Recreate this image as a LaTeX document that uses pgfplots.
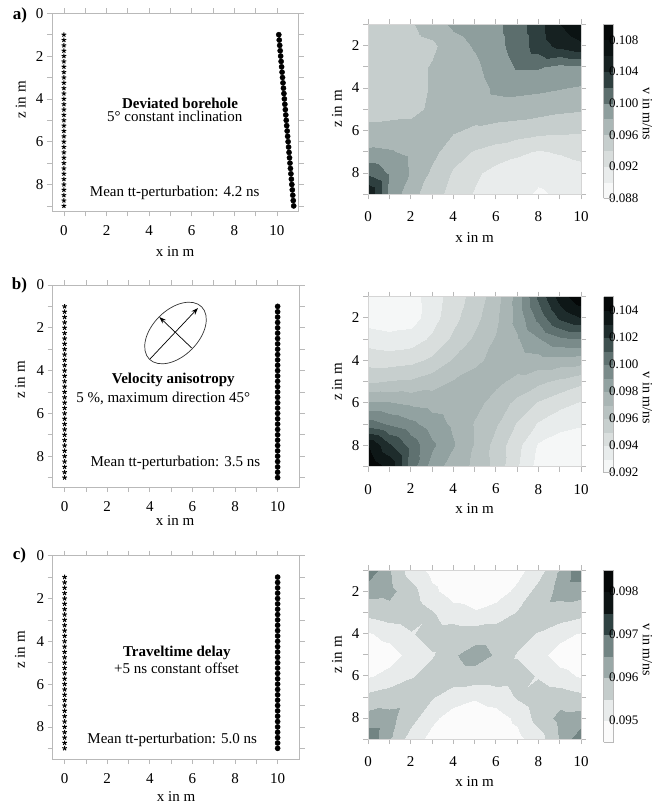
\documentclass[border=0pt]{standalone}
\usepackage{fontspec}
\setmainfont{Liberation Serif}
\usepackage{pgfplots}
\usepackage{pgfplotstable}
\pgfplotsset{compat=1.18}
\usetikzlibrary{arrows.meta}

\definecolor{axgray}{RGB}{185,185,185}

\pgfplotstableread[row sep=\\]{
x z v\\
0 1 0.0950\\ 1 1 0.0950\\ 2 1 0.0958\\ 3 1 0.0970\\ 4 1 0.0984\\ 5 1 0.0990\\ 6 1 0.0996\\ 7 1 0.1010\\ 8 1 0.1032\\ 9 1 0.1060\\ 10 1 0.1076\\
0 2 0.0946\\ 1 2 0.0946\\ 2 2 0.0952\\ 3 2 0.0956\\ 4 2 0.0972\\ 5 2 0.0982\\ 6 2 0.0994\\ 7 2 0.1008\\ 8 2 0.1030\\ 9 2 0.1046\\ 10 2 0.1056\\
0 3 0.0946\\ 1 3 0.0946\\ 2 3 0.0952\\ 3 3 0.0962\\ 4 3 0.0968\\ 5 3 0.0976\\ 6 3 0.0990\\ 7 3 0.1002\\ 8 3 0.1002\\ 9 3 0.0994\\ 10 3 0.0996\\
0 4 0.0946\\ 1 4 0.0946\\ 2 4 0.0952\\ 3 4 0.0962\\ 4 4 0.0966\\ 5 4 0.0972\\ 6 4 0.0984\\ 7 4 0.0986\\ 8 4 0.0984\\ 9 4 0.0981\\ 10 4 0.0978\\
0 5 0.0952\\ 1 5 0.0952\\ 2 5 0.0954\\ 3 5 0.0964\\ 4 5 0.0968\\ 5 5 0.0970\\ 6 5 0.0972\\ 7 5 0.0970\\ 8 5 0.0968\\ 9 5 0.0964\\ 10 5 0.0962\\
0 6 0.0966\\ 1 6 0.0968\\ 2 6 0.0968\\ 3 6 0.0966\\ 4 6 0.0962\\ 5 6 0.0956\\ 6 6 0.0952\\ 7 6 0.0950\\ 8 6 0.0946\\ 9 6 0.0944\\ 10 6 0.0942\\
0 7 0.0984\\ 1 7 0.0982\\ 2 7 0.0976\\ 3 7 0.0966\\ 4 7 0.0948\\ 5 7 0.0938\\ 6 7 0.0932\\ 7 7 0.0924\\ 8 7 0.0918\\ 9 7 0.0922\\ 10 7 0.0928\\
0 8 0.1016\\ 1 8 0.0998\\ 2 8 0.0978\\ 3 8 0.0956\\ 4 8 0.0938\\ 5 8 0.0924\\ 6 8 0.0912\\ 7 8 0.0908\\ 8 8 0.0904\\ 9 8 0.0906\\ 10 8 0.0910\\
0 9 0.1060\\ 1 9 0.0996\\ 2 9 0.0966\\ 3 9 0.0950\\ 4 9 0.0932\\ 5 9 0.0918\\ 6 9 0.0910\\ 7 9 0.0905\\ 8 9 0.0898\\ 9 9 0.0902\\ 10 9 0.0906\\
}\tabA

\pgfplotstableread[row sep=\\]{
x z v\\
0 1 0.0926\\ 1 1 0.0924\\ 2 1 0.0926\\ 3 1 0.0935\\ 4 1 0.0945\\ 5 1 0.0954\\ 6 1 0.0966\\ 7 1 0.0984\\ 8 1 0.1012\\ 9 1 0.1035\\ 10 1 0.1048\\
0 2 0.0925\\ 1 2 0.0923\\ 2 2 0.0925\\ 3 2 0.0936\\ 4 2 0.0947\\ 5 2 0.0957\\ 6 2 0.0968\\ 7 2 0.0983\\ 8 2 0.1003\\ 9 2 0.1022\\ 10 2 0.1030\\
0 3 0.0936\\ 1 3 0.0934\\ 2 3 0.0935\\ 3 3 0.0942\\ 4 3 0.0952\\ 5 3 0.0962\\ 6 3 0.0971\\ 7 3 0.0979\\ 8 3 0.0989\\ 9 3 0.0998\\ 10 3 0.1000\\
0 4 0.0946\\ 1 4 0.0945\\ 2 4 0.0947\\ 3 4 0.0952\\ 4 4 0.0961\\ 5 4 0.0968\\ 6 4 0.0973\\ 7 4 0.0975\\ 8 4 0.0976\\ 9 4 0.0976\\ 10 4 0.0975\\
0 5 0.0959\\ 1 5 0.0961\\ 2 5 0.0962\\ 3 5 0.0966\\ 4 5 0.0971\\ 5 5 0.0974\\ 6 5 0.0972\\ 7 5 0.0967\\ 8 5 0.0962\\ 9 5 0.0957\\ 10 5 0.0952\\
0 6 0.0982\\ 1 6 0.0981\\ 2 6 0.0978\\ 3 6 0.0976\\ 4 6 0.0975\\ 5 6 0.0973\\ 6 6 0.0966\\ 7 6 0.0957\\ 8 6 0.0949\\ 9 6 0.0943\\ 10 6 0.0939\\
0 7 0.1005\\ 1 7 0.0999\\ 2 7 0.0993\\ 3 7 0.0985\\ 4 7 0.0978\\ 5 7 0.0969\\ 6 7 0.0961\\ 7 7 0.0949\\ 8 7 0.0939\\ 9 7 0.0933\\ 10 7 0.0931\\
0 8 0.1040\\ 1 8 0.1022\\ 2 8 0.1006\\ 3 8 0.0992\\ 4 8 0.0981\\ 5 8 0.0969\\ 6 8 0.0956\\ 7 8 0.0943\\ 8 8 0.0929\\ 9 8 0.0925\\ 10 8 0.0925\\
0 9 0.1048\\ 1 9 0.1038\\ 2 9 0.1005\\ 3 9 0.0985\\ 4 9 0.0975\\ 5 9 0.0968\\ 6 9 0.0956\\ 7 9 0.0941\\ 8 9 0.0926\\ 9 9 0.0924\\ 10 9 0.0926\\
}\tabB

\pgfplotstableread[row sep=\\]{
x z v\\
0 1 0.0969\\ 1 1 0.09605\\ 2 1 0.09525\\ 3 1 0.09485\\ 4 1 0.0947\\ 5 1 0.09465\\ 6 1 0.0947\\ 7 1 0.09485\\ 8 1 0.09525\\ 9 1 0.09605\\ 10 1 0.0969\\
0 2 0.0962\\ 1 2 0.09615\\ 2 2 0.0957\\ 3 2 0.0951\\ 4 2 0.0948\\ 5 2 0.09475\\ 6 2 0.0948\\ 7 2 0.0951\\ 8 2 0.0957\\ 9 2 0.09615\\ 10 2 0.0962\\
0 3 0.09565\\ 1 3 0.0958\\ 2 3 0.09585\\ 3 3 0.09555\\ 4 3 0.0952\\ 5 3 0.09505\\ 6 3 0.0952\\ 7 3 0.09555\\ 8 3 0.09585\\ 9 3 0.0958\\ 10 3 0.09565\\
0 4 0.09495\\ 1 4 0.09515\\ 2 4 0.09545\\ 3 4 0.09575\\ 4 4 0.0958\\ 5 4 0.0958\\ 6 4 0.0958\\ 7 4 0.09575\\ 8 4 0.09545\\ 9 4 0.09515\\ 10 4 0.09495\\
0 5 0.0947\\ 1 5 0.0948\\ 2 5 0.09515\\ 3 5 0.09545\\ 4 5 0.09595\\ 5 5 0.0962\\ 6 5 0.09595\\ 7 5 0.09545\\ 8 5 0.09515\\ 9 5 0.0948\\ 10 5 0.0947\\
0 6 0.09495\\ 1 6 0.09515\\ 2 6 0.09545\\ 3 6 0.09575\\ 4 6 0.0958\\ 5 6 0.0958\\ 6 6 0.0958\\ 7 6 0.09575\\ 8 6 0.09545\\ 9 6 0.09515\\ 10 6 0.09495\\
0 7 0.09565\\ 1 7 0.0958\\ 2 7 0.09585\\ 3 7 0.09555\\ 4 7 0.0952\\ 5 7 0.09505\\ 6 7 0.0952\\ 7 7 0.09555\\ 8 7 0.09585\\ 9 7 0.0958\\ 10 7 0.09565\\
0 8 0.0962\\ 1 8 0.09615\\ 2 8 0.0957\\ 3 8 0.0951\\ 4 8 0.0948\\ 5 8 0.09475\\ 6 8 0.0948\\ 7 8 0.0951\\ 8 8 0.0957\\ 9 8 0.09615\\ 10 8 0.0962\\
0 9 0.0969\\ 1 9 0.09605\\ 2 9 0.09525\\ 3 9 0.09485\\ 4 9 0.0947\\ 5 9 0.09465\\ 6 9 0.0947\\ 7 9 0.09485\\ 8 9 0.09525\\ 9 9 0.09605\\ 10 9 0.0969\\
}\tabC

\pgfplotsset{
 base/.style={
   anchor=north west,
   font=\fontsize{15}{18}\selectfont,
   /pgf/number format/assume math mode=true,
   y dir=reverse,
   axis line style={axgray, line width=0.8pt},
   tick style={axgray, line width=0.8pt},
   tick align=outside,
   major tick length=5pt, minor tick length=5pt,
   x=21.3pt, y=21.4pt,
   clip=false,
 },
 leftpanel/.style={base, xmin=-0.56, xmax=11.03, ymin=0,
   xtick={0,2,...,10}, minor xtick={1,3,...,9},
   ytick={0,2,...,8}, minor ytick={1,3,...,9},
   xticklabel style={yshift=-6pt},
 },
 rightpanel/.style={base, xmin=0, xmax=10, ymin=1, ymax=9,
   xtick={0,2,...,10}, minor xtick={1,3,...,9},
   ytick={2,4,6,8}, minor ytick={1,3,...,9},
   xticklabel style={yshift=-9pt},
   axis line style={axgray!60, line width=0.5pt},
   axis on top, colormap access=piecewise constant, colorbar,
 },
 cbstyle/.style={
   at={(parent axis.north east)}, anchor=north west, xshift=14pt,
   width=10pt, scale only axis, height=#1,
   font=\fontsize{13}{16}\selectfont,
   /pgf/number format/assume math mode=true,
   major tick length=0pt,
   axis line style={axgray, line width=0.5pt},
   scaled y ticks=false,
   yticklabel style={xshift=-8pt, /pgf/number format/.cd, fixed, fixed zerofill, precision=3},
 },
 src/.style={only marks, mark=star, mark size=2.4pt, mark options={line width=1pt, black}},
 rec/.style={only marks, mark=*, mark size=2.6pt, mark options={black}},
}

\begin{document}
\begin{tikzpicture}[font=\fontsize{15}{18}\selectfont]
\useasboundingbox (0,0) rectangle (655pt,-811pt);

% ---------------- a) left
\begin{axis}[leftpanel, at={(52pt,-13.3pt)}, ymax=9.25]
\addplot[src] coordinates {(0,1) (0,1.25) (0,1.5) (0,1.75) (0,2) (0,2.25) (0,2.5) (0,2.75) (0,3) (0,3.25) (0,3.5) (0,3.75) (0,4) (0,4.25) (0,4.5) (0,4.75) (0,5) (0,5.25) (0,5.5) (0,5.75) (0,6) (0,6.25) (0,6.5) (0,6.75) (0,7) (0,7.25) (0,7.5) (0,7.75) (0,8) (0,8.25) (0,8.5) (0,8.75) (0,9)};
\addplot[rec] coordinates {(10.087,1) (10.109,1.25) (10.131,1.5) (10.153,1.75) (10.175,2) (10.197,2.25) (10.219,2.5) (10.241,2.75) (10.262,3) (10.284,3.25) (10.306,3.5) (10.328,3.75) (10.350,4) (10.372,4.25) (10.394,4.5) (10.416,4.75) (10.437,5) (10.459,5.25) (10.481,5.5) (10.503,5.75) (10.525,6) (10.547,6.25) (10.569,6.5) (10.591,6.75) (10.612,7) (10.634,7.25) (10.656,7.5) (10.678,7.75) (10.700,8) (10.722,8.25) (10.744,8.5) (10.766,8.75) (10.787,9)};
\node[font=\fontsize{15}{18}\selectfont\bfseries] at (axis cs:5.45,4.2) {Deviated borehole};
\node at (axis cs:5.2,4.83) {5° constant inclination};
\node at (axis cs:5.2,8.38) {Mean tt-perturbation: 4.2 ns};
\end{axis}

% ---------------- a) right
\begin{axis}[rightpanel, at={(368pt,-24.3pt)}, y=21.25pt,
  colormap={cmA}{rgb255=(247,248,248) rgb255=(233,236,236) rgb255=(216,221,220) rgb255=(198,206,205) rgb255=(171,183,182) rgb255=(142,158,157) rgb255=(92,110,109) rgb255=(46,63,63) rgb255=(22,33,33) rgb255=(11,19,19) rgb255=(5,8,8)},
  point meta min=0.088, point meta max=0.110,
  colorbar style={cbstyle=174pt, ytick={0.088,0.092,0.096,0.100,0.104,0.108}}]
\addplot[surf, shader=interp, mesh/rows=9, point meta=explicit] table[x=x, y=z, meta=v] {\tabA};
\end{axis}

% ---------------- b) left
\begin{axis}[leftpanel, at={(52.7pt,-285pt)}, ymax=9.45]
\addplot[src] coordinates {(0,1) (0,1.25) (0,1.5) (0,1.75) (0,2) (0,2.25) (0,2.5) (0,2.75) (0,3) (0,3.25) (0,3.5) (0,3.75) (0,4) (0,4.25) (0,4.5) (0,4.75) (0,5) (0,5.25) (0,5.5) (0,5.75) (0,6) (0,6.25) (0,6.5) (0,6.75) (0,7) (0,7.25) (0,7.5) (0,7.75) (0,8) (0,8.25) (0,8.5) (0,8.75) (0,9)};
\addplot[rec] coordinates {(10,1) (10,1.25) (10,1.5) (10,1.75) (10,2) (10,2.25) (10,2.5) (10,2.75) (10,3) (10,3.25) (10,3.5) (10,3.75) (10,4) (10,4.25) (10,4.5) (10,4.75) (10,5) (10,5.25) (10,5.5) (10,5.75) (10,6) (10,6.25) (10,6.5) (10,6.75) (10,7) (10,7.25) (10,7.5) (10,7.75) (10,8) (10,8.25) (10,8.5) (10,8.75) (10,9)};
\node[font=\fontsize{15}{18}\selectfont\bfseries] at (axis cs:5.1,4.44) {Velocity anisotropy};
\node at (axis cs:4.63,5.3) {5 \%, maximum direction 45°};
\node at (axis cs:5.2,8.33) {Mean tt-perturbation: 3.5 ns};
\end{axis}

% ---------------- b) right
\begin{axis}[rightpanel, at={(368pt,-296.5pt)}, y=21.25pt,
  colormap={cmB}{rgb255=(245,247,247) rgb255=(232,236,236) rgb255=(217,222,221) rgb255=(199,207,206) rgb255=(184,194,193) rgb255=(169,181,180) rgb255=(146,162,161) rgb255=(122,139,138) rgb255=(95,113,112) rgb255=(62,80,79) rgb255=(30,44,44) rgb255=(14,23,23) rgb255=(5,8,8)},
  point meta min=0.092, point meta max=0.105,
  colorbar style={cbstyle=176pt, ytick={0.092,0.094,0.096,0.098,0.100,0.102,0.104}}]
\addplot[surf, shader=interp, mesh/rows=9, point meta=explicit] table[x=x, y=z, meta=v] {\tabB};
\end{axis}

% ---------------- c) left
\begin{axis}[leftpanel, at={(52.7pt,-555.7pt)}, ymax=9.5]
\addplot[src] coordinates {(0,1) (0,1.25) (0,1.5) (0,1.75) (0,2) (0,2.25) (0,2.5) (0,2.75) (0,3) (0,3.25) (0,3.5) (0,3.75) (0,4) (0,4.25) (0,4.5) (0,4.75) (0,5) (0,5.25) (0,5.5) (0,5.75) (0,6) (0,6.25) (0,6.5) (0,6.75) (0,7) (0,7.25) (0,7.5) (0,7.75) (0,8) (0,8.25) (0,8.5) (0,8.75) (0,9)};
\addplot[rec] coordinates {(10,1) (10,1.25) (10,1.5) (10,1.75) (10,2) (10,2.25) (10,2.5) (10,2.75) (10,3) (10,3.25) (10,3.5) (10,3.75) (10,4) (10,4.25) (10,4.5) (10,4.75) (10,5) (10,5.25) (10,5.5) (10,5.75) (10,6) (10,6.25) (10,6.5) (10,6.75) (10,7) (10,7.25) (10,7.5) (10,7.75) (10,8) (10,8.25) (10,8.5) (10,8.75) (10,9)};
\node[font=\fontsize{15}{18}\selectfont\bfseries] at (axis cs:5.27,4.56) {Traveltime delay};
\node at (axis cs:5.25,5.26) {+5 ns constant offset};
\node at (axis cs:5.05,8.61) {Mean tt-perturbation: 5.0 ns};
\end{axis}

% ---------------- c) right
\begin{axis}[rightpanel, at={(368pt,-570.3pt)}, y=21.1pt,
  colormap={cmC}{rgb255=(251,251,251) rgb255=(232,235,235) rgb255=(196,204,203) rgb255=(154,168,167) rgb255=(114,132,131) rgb255=(47,66,66) rgb255=(13,20,20) rgb255=(5,8,8)},
  point meta min=0.0945, point meta max=0.0985,
  colorbar style={cbstyle=171.5pt, ytick={0.095,0.096,0.097,0.098}}]
\addplot[surf, shader=interp, mesh/rows=9, point meta=explicit] table[x=x, y=z, meta=v] {\tabC};
\end{axis}

% ellipse annotation in b)
\draw[line width=0.7pt, black!80, rotate around={45:(175.5pt,-333pt)}] (175.5pt,-333pt) ellipse (37pt and 23pt);
\draw[line width=0.7pt, -{Stealth[length=7pt,width=5pt]}] (150pt,-359pt) -- (198pt,-308pt);
\draw[line width=0.7pt, -{Stealth[length=7pt,width=5pt]}] (191.7pt,-348pt) -- (159.3pt,-317pt);

% axis labels
\node at (175pt,-252pt) {x in m};
\node at (175pt,-521pt) {x in m};
\node at (176pt,-797pt) {x in m};
\node at (474.5pt,-237.3pt) {x in m};
\node at (474.5pt,-508.3pt) {x in m};
\node at (474.5pt,-781.7pt) {x in m};
\node[rotate=90] at (20.7pt,-100pt) {z in m};
\node[rotate=90] at (20pt,-380pt) {z in m};
\node[rotate=90] at (20pt,-650pt) {z in m};
\node[rotate=90] at (337pt,-109pt) {z in m};
\node[rotate=90] at (337pt,-382pt) {z in m};
\node[rotate=90] at (337pt,-655pt) {z in m};
\node[rotate=-90, inner sep=0pt, font=\fontsize{14}{17}\selectfont] at (647.5pt,-114pt) {v in m/ns};
\node[rotate=-90, inner sep=0pt, font=\fontsize{14}{17}\selectfont] at (647.5pt,-398pt) {v in m/ns};
\node[rotate=-90, inner sep=0pt, font=\fontsize{14}{17}\selectfont] at (647.5pt,-650pt) {v in m/ns};
\node[font=\fontsize{17}{20}\selectfont\bfseries] at (20pt,-15pt) {a)};
\node[font=\fontsize{17}{20}\selectfont\bfseries] at (19.5pt,-285pt) {b)};
\node[font=\fontsize{17}{20}\selectfont\bfseries] at (19.5pt,-555pt) {c)};
\end{tikzpicture}
\end{document}
